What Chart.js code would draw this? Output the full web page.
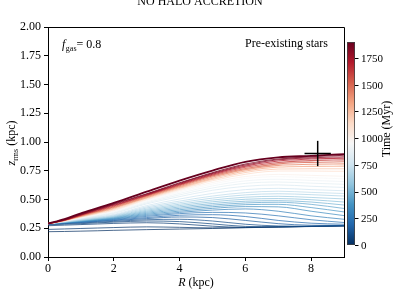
<!DOCTYPE html>
<html><head><meta charset="utf-8">
<script src="https://cdn.jsdelivr.net/npm/chart.js@4.4.1/dist/chart.umd.min.js"></script>
<style>html,body{margin:0;padding:0;background:#fff;overflow:hidden}#wrap{width:400px;height:290px;position:relative}</style>
</head><body><div id="wrap"><canvas id="c" width="400" height="290"></canvas></div>
<script>
// ---- data ----
const radii = [0, 0.5, 1, 1.5, 2, 3, 4, 5, 6, 7, 8, 9];            // R (kpc)
const times = [0, 25, 50, 75, 100, 150, 200, 250, 300, 350, 400, 450, 500, 550, 600, 650, 700,
               750, 800, 850, 900, 950, 1000, 1100, 1200, 1300, 1400, 1500, 1600, 1700, 1800, 1850, 1900]; // Myr
const zrmsByTime = [
  [0.220,0.222,0.225,0.228,0.232,0.238,0.243,0.248,0.255,0.260,0.265,0.270],
  [0.240,0.244,0.248,0.252,0.256,0.262,0.258,0.253,0.256,0.261,0.266,0.271],
  [0.272,0.277,0.282,0.287,0.292,0.298,0.288,0.268,0.258,0.262,0.266,0.271],
  [0.280,0.285,0.290,0.297,0.303,0.313,0.308,0.288,0.266,0.263,0.267,0.272],
  [0.285,0.290,0.296,0.303,0.310,0.324,0.328,0.313,0.285,0.270,0.268,0.273],
  [0.288,0.294,0.300,0.309,0.317,0.334,0.348,0.343,0.318,0.290,0.276,0.275],
  [0.290,0.296,0.303,0.312,0.321,0.343,0.363,0.368,0.352,0.318,0.294,0.285],
  [0.290,0.297,0.305,0.316,0.326,0.353,0.377,0.388,0.383,0.358,0.324,0.300],
  [0.290,0.299,0.308,0.319,0.330,0.362,0.388,0.408,0.418,0.398,0.358,0.328],
  [0.290,0.300,0.310,0.322,0.334,0.371,0.399,0.423,0.438,0.436,0.398,0.360],
  [0.290,0.301,0.312,0.325,0.338,0.380,0.411,0.437,0.455,0.458,0.430,0.392],
  [0.290,0.302,0.314,0.328,0.342,0.389,0.423,0.451,0.470,0.476,0.458,0.422],
  [0.290,0.303,0.316,0.331,0.346,0.398,0.435,0.465,0.485,0.490,0.478,0.452],
  [0.290,0.304,0.318,0.334,0.350,0.407,0.447,0.480,0.502,0.508,0.498,0.478],
  [0.290,0.305,0.320,0.337,0.354,0.416,0.459,0.495,0.520,0.528,0.518,0.505],
  [0.290,0.306,0.323,0.341,0.359,0.426,0.472,0.512,0.540,0.550,0.542,0.530],
  [0.290,0.307,0.326,0.346,0.364,0.436,0.486,0.530,0.560,0.572,0.562,0.552],
  [0.290,0.308,0.329,0.350,0.370,0.447,0.504,0.553,0.586,0.597,0.586,0.576],
  [0.290,0.310,0.333,0.356,0.379,0.462,0.525,0.580,0.615,0.627,0.615,0.605],
  [0.290,0.311,0.336,0.360,0.385,0.471,0.540,0.600,0.640,0.652,0.642,0.632],
  [0.290,0.312,0.339,0.364,0.391,0.480,0.553,0.618,0.662,0.676,0.666,0.656],
  [0.290,0.313,0.342,0.368,0.397,0.489,0.566,0.634,0.683,0.699,0.690,0.680],
  [0.290,0.314,0.345,0.373,0.403,0.496,0.577,0.648,0.700,0.718,0.710,0.702],
  [0.290,0.315,0.348,0.378,0.410,0.503,0.587,0.663,0.720,0.748,0.748,0.745],
  [0.290,0.316,0.351,0.383,0.417,0.510,0.596,0.675,0.735,0.765,0.768,0.768],
  [0.290,0.317,0.354,0.388,0.424,0.516,0.604,0.685,0.748,0.782,0.788,0.790],
  [0.290,0.318,0.357,0.393,0.430,0.523,0.612,0.695,0.760,0.797,0.806,0.810],
  [0.290,0.319,0.360,0.398,0.437,0.530,0.620,0.705,0.770,0.810,0.823,0.828],
  [0.290,0.320,0.363,0.403,0.444,0.535,0.627,0.712,0.780,0.822,0.838,0.845],
  [0.290,0.321,0.366,0.408,0.450,0.540,0.633,0.720,0.790,0.835,0.852,0.860],
  [0.290,0.323,0.370,0.413,0.456,0.545,0.640,0.727,0.800,0.845,0.862,0.872],
  [0.290,0.326,0.374,0.418,0.462,0.550,0.645,0.733,0.808,0.852,0.872,0.885],
  [0.290,0.330,0.380,0.425,0.470,0.568,0.665,0.752,0.827,0.866,0.880,0.895]
];
const obsR = 8.2, obsZ = 0.9, obsRerr = 0.4, obsZerr = 0.11;   // observational cross
const xTicks = [0, 2, 4, 6, 8];
const yTicks = [0, 0.25, 0.5, 0.75, 1.0, 1.25, 1.5, 1.75, 2.0];
const cbTicks = [0, 250, 500, 750, 1000, 1250, 1500, 1750];
const timeMax = 1900;

// ---- colormap RdBu_r ----
const RDBU_R = ['#053061','#2166ac','#4393c3','#92c5de','#d1e5f0','#f7f7f7','#fddbc7','#f4a582','#d6604d','#b2182b','#67001f'];
function hex2rgb(h){return [parseInt(h.slice(1,3),16),parseInt(h.slice(3,5),16),parseInt(h.slice(5,7),16)];}
function cmap(f, a){
  f = Math.max(0, Math.min(1, f));
  const p = f*(RDBU_R.length-1), i = Math.min(Math.floor(p), RDBU_R.length-2), u = p - i;
  const c0 = hex2rgb(RDBU_R[i]), c1 = hex2rgb(RDBU_R[i+1]);
  const c = c0.map((v,k)=>Math.round(v+(c1[k]-v)*u));
  return `rgba(${c[0]},${c[1]},${c[2]},${a})`;
}

const SERIF = "'Liberation Serif','DejaVu Serif',serif";
const datasets = times.map((t, i) => {
  const last = i === times.length-1;
  return {
    data: radii.map((r, j) => ({x: r, y: zrmsByTime[i][j]})),
    borderColor: cmap(t/timeMax, last ? 1 : 0.8),
    borderWidth: last ? 1.8 : (t > 1000 ? 1.1 : 0.9),
    pointRadius: 0,
    cubicInterpolationMode: 'monotone',
    order: -t
  };
});
datasets.push({data: [{x: obsR-obsRerr, y: obsZ}, {x: obsR+obsRerr, y: obsZ}], borderColor: '#000', borderWidth: 1.5, pointRadius: 0, order: -10000});
datasets.push({data: [{x: obsR, y: obsZ-obsZerr}, {x: obsR, y: obsZ+obsZerr}], borderColor: '#000', borderWidth: 1.5, pointRadius: 0, order: -10000});

const extras = {
  id: 'extras',
  afterDraw(chart){
    const ctx = chart.ctx, a = chart.chartArea;
    ctx.save();
    ctx.strokeStyle = '#000'; ctx.lineWidth = 1;
    ctx.beginPath();
    ctx.moveTo(a.left, a.top+0.5); ctx.lineTo(a.right+0.5, a.top+0.5); ctx.lineTo(a.right+0.5, a.bottom);
    ctx.stroke();
    ctx.fillStyle = '#000';
    ctx.font = '12px ' + SERIF; ctx.textAlign = 'center'; ctx.textBaseline = 'alphabetic';
    ctx.fillText('NO HALO ACCRETION', 200, 5);
    ctx.textAlign = 'left';
    const xr = 'R', xrest = ' (kpc)';
    ctx.font = 'italic 12px ' + SERIF; const w1 = ctx.measureText(xr).width;
    ctx.font = '12px ' + SERIF; const w2 = ctx.measureText(xrest).width;
    let x0 = (a.left + a.right)/2 - (w1 + w2)/2;
    ctx.font = 'italic 12px ' + SERIF; ctx.fillText(xr, x0, 286);
    ctx.font = '12px ' + SERIF; ctx.fillText(xrest, x0 + w1, 286);
    ctx.save();
    ctx.translate(15, 143); ctx.rotate(-Math.PI/2);
    ctx.font = 'italic 12px ' + SERIF; const z1 = ctx.measureText('z').width;
    ctx.font = '8px ' + SERIF; const z2 = ctx.measureText('rms').width;
    ctx.font = '12px ' + SERIF; const z3 = ctx.measureText(' (kpc)').width;
    let s = -(z1+z2+z3)/2;
    ctx.font = 'italic 12px ' + SERIF; ctx.fillText('z', s, 0);
    ctx.font = '8px ' + SERIF; ctx.fillText('rms', s+z1, 3);
    ctx.font = '12px ' + SERIF; ctx.fillText(' (kpc)', s+z1+z2, 0);
    ctx.restore();
    ctx.font = 'italic 12px ' + SERIF; ctx.fillText('f', 62, 48);
    const fw = ctx.measureText('f').width;
    ctx.font = '8px ' + SERIF; ctx.fillText('gas', 62+fw+0.5, 51);
    const gw = ctx.measureText('gas').width;
    ctx.font = '12px ' + SERIF; ctx.fillText('= 0.8', 62+fw+0.5+gw, 48);
    ctx.fillText('Pre-existing stars', 245, 47);
    // colorbar
    const cbL = 347, cbR = 355, cbT = 42, cbB = 245;
    const g = ctx.createLinearGradient(0, cbB, 0, cbT);
    RDBU_R.forEach((c, k) => g.addColorStop(k/(RDBU_R.length-1), c));
    ctx.fillStyle = g; ctx.fillRect(cbL, cbT, cbR-cbL, cbB-cbT);
    ctx.strokeStyle = '#444'; ctx.lineWidth = 0.8;
    ctx.strokeRect(cbL+0.5, cbT+0.5, cbR-cbL-1, cbB-cbT-1);
    ctx.fillStyle = '#000'; ctx.strokeStyle = '#000'; ctx.lineWidth = 1;
    ctx.font = '11px ' + SERIF; ctx.textAlign = 'left'; ctx.textBaseline = 'middle';
    cbTicks.forEach(t => {
      const y = cbB - (cbB-cbT)*t/timeMax;
      ctx.beginPath(); ctx.moveTo(cbR, Math.round(y)+0.5); ctx.lineTo(cbR+3.5, Math.round(y)+0.5); ctx.stroke();
      ctx.fillText(String(t), 361, y+1);
    });
    ctx.save();
    ctx.translate(390, 129); ctx.rotate(-Math.PI/2);
    ctx.textAlign = 'center'; ctx.textBaseline = 'alphabetic';
    ctx.font = '12px ' + SERIF;
    ctx.fillText('Time (Myr)', 0, 0);
    ctx.restore();
    ctx.restore();
  }
};

new Chart(document.getElementById('c'), {
  type: 'line',
  data: {datasets},
  options: {
    responsive: false, animation: false, devicePixelRatio: 1,
    layout: {padding: {top: 27, right: 56, left: 0, bottom: 0}},
    plugins: {legend: {display: false}, tooltip: {enabled: false}},
    scales: {
      x: {
        type: 'linear', min: 0, max: 9,
        afterFit: s => { s.height = 33; },
        afterBuildTicks: s => { s.ticks = xTicks.map(v => ({value: v})); },
        grid: {drawOnChartArea: false, drawTicks: true, tickLength: 4, color: '#000'},
        border: {display: true, color: '#000', width: 1},
        ticks: {color: '#000', font: {family: SERIF, size: 12}, padding: 1, maxRotation: 0}
      },
      y: {
        type: 'linear', min: 0, max: 2,
        afterFit: s => { s.width = 48; },
        afterBuildTicks: s => { s.ticks = yTicks.map(v => ({value: v})); },
        grid: {drawOnChartArea: false, drawTicks: true, tickLength: 4, color: '#000'},
        border: {display: true, color: '#000', width: 1},
        ticks: {color: '#000', font: {family: SERIF, size: 12}, padding: 3, callback: v => Number(v).toFixed(2)}
      }
    }
  },
  plugins: [extras]
});
</script></body></html>
